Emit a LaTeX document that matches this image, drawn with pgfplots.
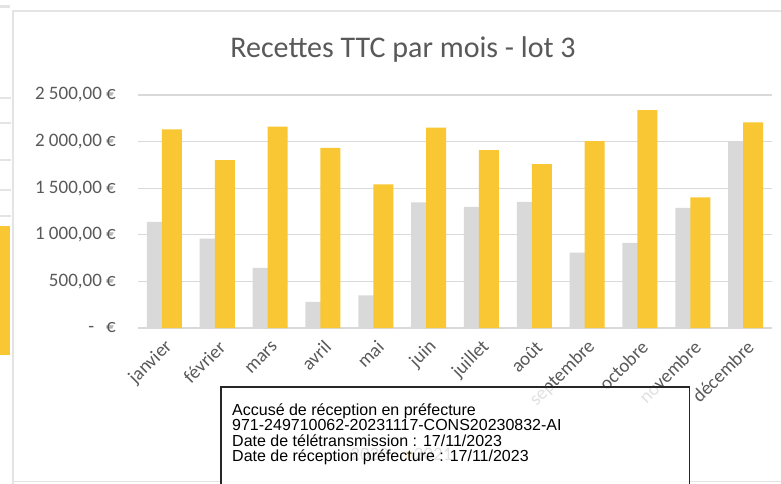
\documentclass[border=0pt]{standalone}
\usepackage{pgfplots}
\pgfplotsset{compat=1.18}
\usepackage{pgfplotstable}
\usepackage{fontspec}
\setmainfont{Carlito}
\newfontfamily\arialfont{Liberation Sans}

\definecolor{txtgray}{HTML}{595959}
\definecolor{gridgray}{HTML}{D9D9D9}
\definecolor{bargray}{HTML}{D9D9D9}
\definecolor{baryellow}{RGB}{249,199,51}
\definecolor{framegray}{HTML}{E4E4E4}

% recettes par mois : 0 = janvier ... 11 = decembre
\pgfplotstableread{
idx  g     y
0    1139  2131
1    960   1802
2    645   2160
3    280   1934
4    351   1540
5    1347  2149
6    1300  1909
7    1354  1759
8    810   2006
9    913   2339
10   1289  1401
11   2006  2207
}\recettes

\begin{document}
\begin{tikzpicture}[x=1pt,y=1pt]
\path[use as bounding box] (0,0) rectangle (781,483);
\fill[white] (0,0) rectangle (781,483);

% bit of the neighbouring chart on the left
\fill[framegray] (0,475) rectangle (10,478);
\foreach \yy in {385,360,323,293,267} \draw[framegray, line width=1.2] (0,\yy) -- (11,\yy);
\fill[baryellow] (0,128) rectangle (10,257);

% chart frame
\draw[framegray, line width=2.2] (13,-2) -- (13,472) -- (790,472);
\draw[framegray, line width=1.5] (13,1.5) -- (790,1.5);

\node[font=\fontsize{30}{30}\selectfont, text=txtgray] at (403,433) {Recettes TTC par mois - lot 3};

\begin{axis}[
    at={(138pt,155pt)}, anchor=south west,
    width=634pt, height=233pt, scale only axis,
    xmin=-0.5, xmax=11.5, ymin=0, ymax=2500,
    axis line style={draw=none},
    major tick length=0pt,
    ymajorgrids=true,
    grid style={gridgray, line width=1.3pt},
    ytick={0,500,1000,1500,2000,2500},
    yticklabels={{-\hspace{12pt}€},{500,00 €},{1 000,00 €},{1 500,00 €},{2 000,00 €},{2 500,00 €}},
    yticklabel style={anchor=east, inner sep=0pt, xshift=-22pt,
                      font=\fontsize{19}{19}\selectfont, text=txtgray},
    xtick={0,...,11},
    xticklabels={janvier,février,mars,avril,mai,juin,juillet,août,septembre,octobre,novembre,décembre},
    xticklabel style={xshift=5pt, yshift=-16pt, rotate=45, anchor=east, inner sep=0pt,
                      font=\fontsize{19}{19}\selectfont, text=txtgray},
    legend style={at={(0.41,-0.545)}, anchor=center, draw=none, fill=none,
                  legend columns=2, font=\fontsize{19}{19}\selectfont, text=txtgray,
                  /tikz/every even column/.append style={column sep=14pt}},
    legend image code/.code={\fill[#1] (0pt,-3.5pt) rectangle (7pt,3.5pt);},
  ]
\addplot[ybar, bar width=0.3786, bar shift=-0.142, fill=bargray, draw=none]
  table[x=idx, y=g] {\recettes};
\addlegendentry{2020}
\addplot[ybar, bar width=0.3786, bar shift=0.142, fill=baryellow, draw=none]
  table[x=idx, y=y] {\recettes};
\addlegendentry{2021}
\end{axis}

% stamp of the prefecture on top
\draw[black!85, line width=1.3, fill=white, fill opacity=0.82] (221,-5) rectangle (689.5,96);
\begin{scope}[every node/.style={anchor=base west, inner sep=0pt, font=\arialfont\fontsize{16}{16}\selectfont}]
\node at (232,67.5) {Accusé de réception en préfecture};
\node at (232,52.2) {971-249710062-20231117-CONS20230832-AI};
\node at (232,36.9) {Date de télétransmission : 17/11/2023};
\node at (232,21.6) {Date de réception préfecture : 17/11/2023};
\end{scope}
\end{tikzpicture}
\end{document}
